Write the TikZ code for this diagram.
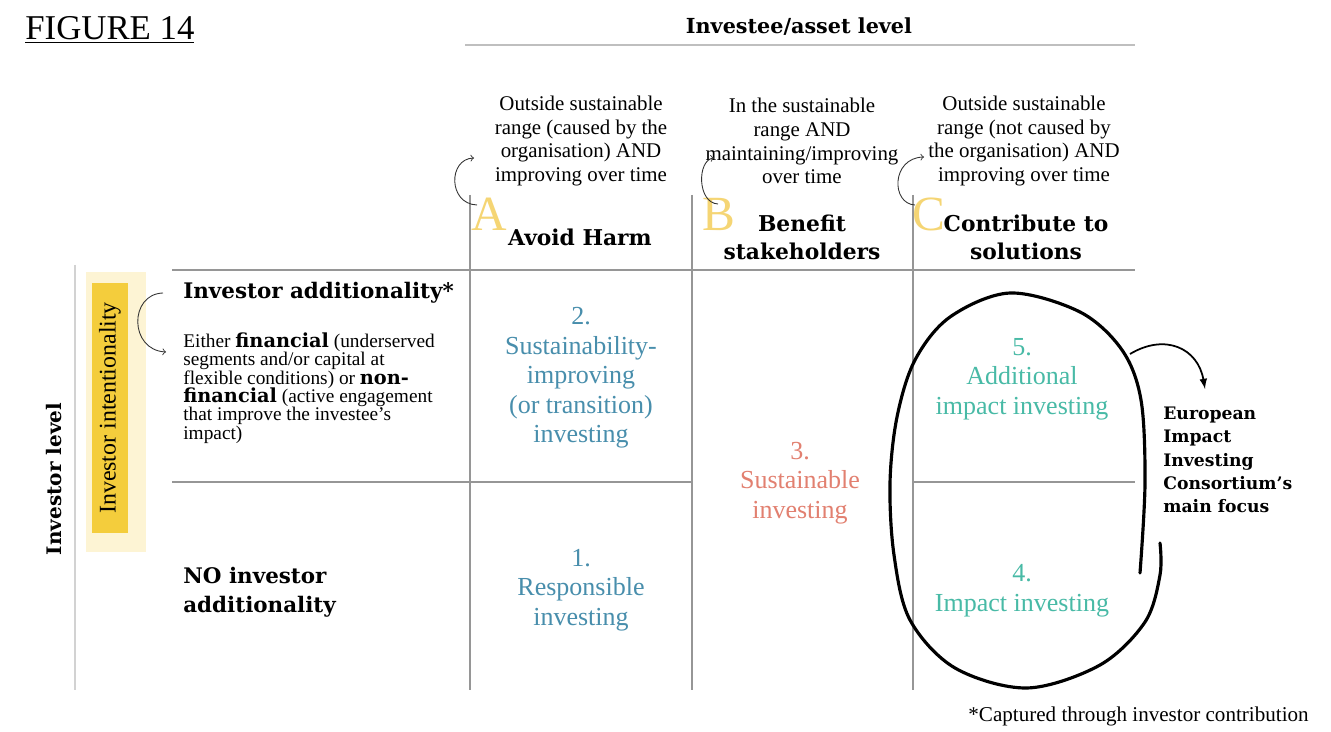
\documentclass[tikz,border=0pt]{standalone}
\usepackage{fontspec}
\setmainfont{Liberation Serif}[BoldFont={DejaVu Serif Bold}]
\usetikzlibrary{positioning}

\definecolor{gridgray}{RGB}{150,150,150}
\definecolor{respblue}{RGB}{72,142,172}
\definecolor{sustred}{RGB}{226,128,112}
\definecolor{impactteal}{RGB}{72,186,166}
\definecolor{highlight}{RGB}{244,205,60}
\definecolor{lettergold}{RGB}{242,200,70}

\newcommand{\tightlines}{\lineskiplimit -10pt\relax}

\tikzset{
    gridline/.style={draw=gridgray, line width=0.8pt},
    coltext/.style={align=center, inner sep=0, font=\fontsize{11.9}{13.6}\selectfont},
    colhead/.style={align=center, inner sep=0, font=\bfseries\fontsize{12.4}{16}\selectfont},
    bigletter/.style={inner sep=0, text=lettergold, opacity=.75, font=\fontsize{28}{28}\selectfont},
    cell/.style={align=center, inner sep=0, font=\fontsize{14.8}{16.8}\selectfont},
    rowhead/.style={align=left, inner sep=0, font=\bfseries\fontsize{12.2}{16.4}\selectfont},
    loopback/.style={->, gray!40!black, line width=0.5pt},
}

\begin{document}
\begin{tikzpicture}[x=0.02cm, y=-0.02cm]
        \useasboundingbox[fill=white] (0,0) rectangle (1331,732);

        \node[anchor=base west, inner sep=0, font=\fontsize{19.8}{20}\selectfont] (fig) at (25,40) {\underline{FIGURE 14}};

        % investee axis on top
        \draw[line width=0.8pt, gray!50] (465,45) -- (1135,45);
        \node[anchor=base, inner sep=0, font=\bfseries\fontsize{11.8}{12}\selectfont] (investee) at (799,34) {Investee/asset level};

        % the grid
        \draw[gridline] (172,270) -- (1135,270);
        \draw[gridline] (172,482) -- (692,482);
        \draw[gridline] (913,482) -- (1135,482);
        \foreach \x in {470,692,913}
            \draw[gridline] (\x,195) -- (\x,690);
        \draw[line width=0.8pt, gray!35] (75,265) -- (75,690);

        % column headings
        \node[coltext] (descA) at (581,141) {Outside sustainable\\range (caused by the\\organisation) AND\\improving over time};
        \node[coltext] (descB) at (802,141) {In the sustainable\\range AND\\maintaining/improving\\over time};
        \node[coltext] (descC) at (1024,141) {Outside sustainable\\range (not caused by\\the organisation) AND\\improving over time};

        \node[bigletter] (letA) at (489,214) {A};
        \node[bigletter] (letB) at (719,214) {B};
        \node[bigletter] (letC) at (929,214) {C};

        \node[colhead] (headA) at (580,237) {Avoid Harm};
        \node[colhead] (headB) at (802,237) {Benefit\\stakeholders};
        \node[colhead] (headC) at (1026,237) {Contribute to\\solutions};

        \coordinate (a0) at (477,205); \coordinate (a1) at (474,158);
        \coordinate (b0) at (718,204); \coordinate (b1) at (714,158);
        \coordinate (c0) at (915,205); \coordinate (c1) at (924,157);
        \draw[loopback] (a0) .. controls (448,204) and (448,159) .. (a1);
        \draw[loopback] (b0) .. controls (697,203) and (697,160) .. (b1);
        \draw[loopback] (c0) .. controls (891,204) and (891,158) .. (c1);

        % investor axis on the left
        \node[rotate=90, inner sep=0, font=\bfseries\fontsize{11.4}{12}\selectfont] (invlevel) at (54,479) {Investor level};
        \fill[highlight!22] (86,272) rectangle (146,552);
        \node[rotate=90, fill=highlight, minimum width=5cm, minimum height=0.72cm, inner sep=0,
              font=\fontsize{13.6}{14}\selectfont] (intent) at (110,408) {Investor intentionality};

        \node[rowhead, anchor=west] (addit) at (183,293) {Investor additionality*};
        \node[align=left, inner sep=0, anchor=west, font=\fontsize{11}{10.5}\selectfont\tightlines] (either) at (183,388)
            {Either \textbf{financial} (underserved\\segments and/or capital at\\flexible conditions) or \textbf{non-}\\\textbf{financial} (active engagement\\that improve the investee's\\impact)};
        \node[rowhead, anchor=west] (noaddit) at (183,592) {NO investor\\additionality};

        \coordinate (i0) at (163,293); \coordinate (i1) at (166,352);
        \draw[loopback] (i0) .. controls (129,294) and (129,350) .. (i1);

        % the strategies
        \node[cell, text=respblue] (two) at (581,378) {2.\\Sustainability-\\improving\\(or transition)\\investing};
        \node[cell, text=respblue] (one) at (581,590) {1.\\Responsible\\investing};
        \node[cell, text=sustred] (three) at (800,483) {3.\\Sustainable\\investing};
        \node[cell, text=impactteal] (five) at (1022,379) {5.\\Additional\\impact investing};
        \node[cell, text=impactteal] (four) at (1022,591) {4.\\Impact investing};

        % main focus loop
        \draw[line width=1.8pt, line cap=round] plot[smooth, tension=0.55] coordinates {
            (1140,573) (1145,483) (1141,400) (1122,350) (1080,312) (1010,293) (950,317)
            (915,360) (897,417) (890,483) (894,555) (910,620) (955,668) (1027,688)
            (1100,665) (1145,622) (1160,575) (1160,543)};

        \node[align=left, inner sep=0, anchor=west, font=\bfseries\fontsize{9.8}{13.3}\selectfont] (eiic) at (1163,460)
            {European\\Impact\\Investing\\Consortium's\\main focus};
        \coordinate (f0) at (1130,354);
        \draw[-latex, line width=1pt] (f0) .. controls (1165,333) and (1198,348) .. (1205,389);

        \node[anchor=east, inner sep=0, font=\fontsize{12}{12}\selectfont] (note) at (1309,716) {*Captured through investor contribution};
    \end{tikzpicture}
\end{document}
